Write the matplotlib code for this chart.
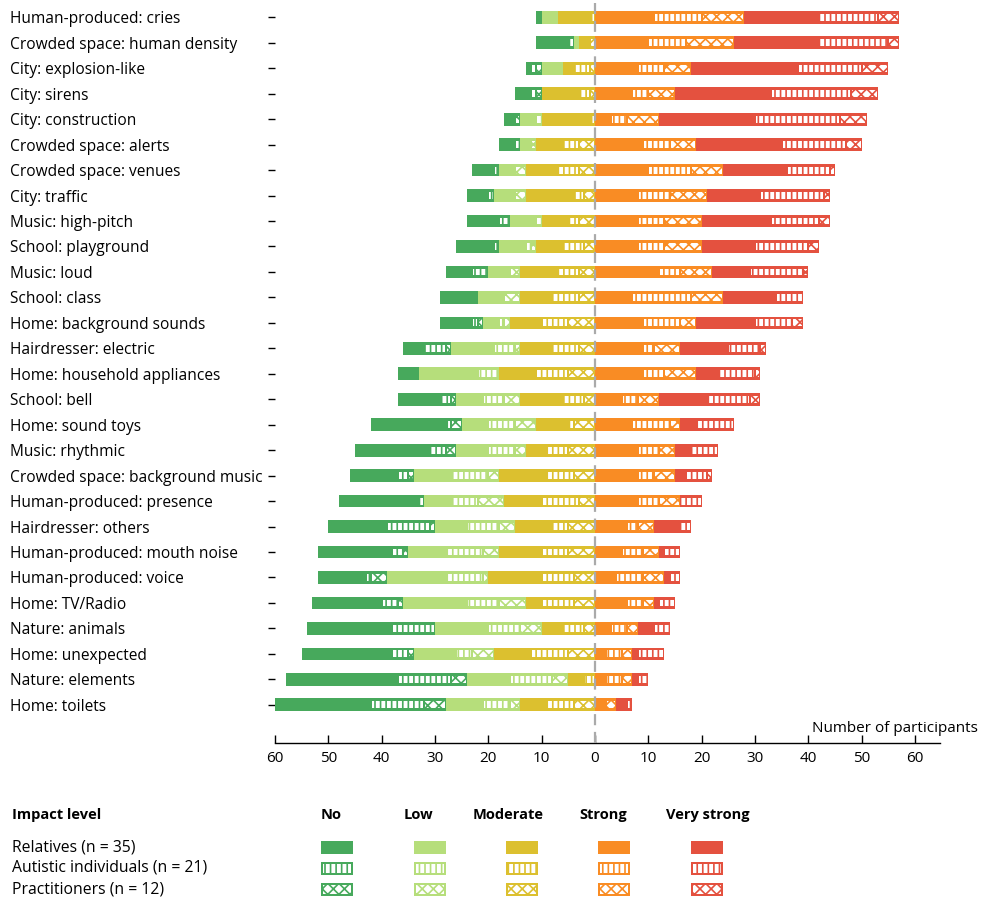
import numpy as np
import matplotlib
matplotlib.use("Agg")
import matplotlib.pyplot as plt
from matplotlib.patches import Rectangle

plt.rcParams['font.family'] = ['Open Sans', 'DejaVu Sans']
plt.rcParams['hatch.linewidth'] = 1.2

categories = [
    "Human-produced: cries", "Crowded space: human density", "City: explosion-like",
    "City: sirens", "City: construction", "Crowded space: alerts", "Crowded space: venues",
    "City: traffic", "Music: high-pitch", "School: playground", "Music: loud",
    "School: class", "Home: background sounds", "Hairdresser: electric",
    "Home: household appliances", "School: bell", "Home: sound toys", "Music: rhythmic",
    "Crowded space: background music", "Human-produced: presence", "Hairdresser: others",
    "Human-produced: mouth noise", "Human-produced: voice", "Home: TV/Radio",
    "Nature: animals", "Home: unexpected", "Nature: elements", "Home: toilets",
]

# Impact level "No"
no_rel = [1, 6, 1, 3, 2, 3, 4, 4, 6, 7, 5, 7, 6, 4, 4, 8, 14, 14, 9, 15, 11, 14, 9, 13, 16, 17, 21, 18]
no_aut = [0, 1, 1, 1, 0, 1, 1, 1, 2, 1, 3, 0, 1, 4, 0, 2, 1, 3, 2, 1, 8, 2, 1, 3, 8, 3, 10, 10]
no_pra = [0, 0, 1, 1, 1, 0, 0, 0, 0, 0, 0, 0, 1, 1, 0, 1, 2, 2, 1, 0, 1, 1, 3, 1, 0, 1, 3, 4]
# Impact level "Low"
low_rel = [3, 1, 4, 0, 3, 2, 3, 4, 5, 5, 4, 5, 3, 8, 11, 5, 5, 6, 7, 5, 6, 7, 11, 12, 10, 8, 8, 7]
low_aut = [0, 0, 0, 0, 1, 0, 0, 0, 1, 1, 0, 0, 1, 4, 4, 4, 5, 5, 7, 5, 6, 7, 7, 6, 6, 3, 8, 5]
low_pra = [0, 0, 0, 0, 0, 1, 2, 2, 0, 1, 2, 3, 1, 1, 0, 3, 4, 2, 2, 5, 3, 3, 1, 5, 4, 4, 3, 2]
# Impact level "Moderate"
mod_rel = [6, 2, 2, 7, 9, 5, 6, 9, 5, 5, 7, 6, 6, 6, 7, 8, 6, 4, 9, 7, 7, 8, 10, 3, 4, 7, 3, 5]
mod_aut = [1, 0, 3, 2, 1, 3, 4, 2, 2, 4, 4, 5, 5, 5, 6, 4, 1, 4, 5, 7, 3, 5, 6, 6, 4, 7, 2, 5]
mod_pra = [0, 1, 1, 1, 0, 3, 3, 2, 3, 2, 3, 3, 5, 3, 5, 2, 4, 5, 4, 3, 5, 5, 4, 4, 2, 5, 0, 4]
# Impact level "Strong"
str_rel = [11, 10, 8, 7, 3, 9, 10, 8, 8, 8, 12, 7, 9, 9, 9, 5, 7, 8, 8, 8, 6, 5, 4, 6, 3, 2, 2, 2]
str_aut = [9, 7, 5, 3, 3, 5, 8, 6, 5, 5, 4, 11, 7, 2, 4, 3, 7, 4, 3, 4, 2, 4, 5, 3, 3, 3, 3, 0]
str_pra = [8, 9, 5, 5, 6, 5, 6, 7, 7, 7, 6, 6, 3, 5, 6, 4, 2, 3, 4, 4, 3, 3, 4, 2, 2, 2, 2, 2]
# Impact level "Very strong"
vs_rel = [14, 16, 20, 18, 18, 16, 12, 10, 13, 10, 7, 10, 11, 9, 4, 9, 3, 3, 2, 0, 5, 1, 1, 1, 3, 1, 1, 2]
vs_aut = [11, 13, 12, 15, 16, 12, 8, 12, 9, 10, 10, 5, 7, 6, 7, 8, 7, 5, 4, 4, 2, 3, 2, 3, 3, 5, 2, 1]
vs_pra = [4, 2, 5, 5, 5, 3, 1, 1, 2, 2, 1, 0, 2, 1, 1, 2, 0, 0, 1, 0, 0, 0, 0, 0, 0, 0, 0, 0]

level_names = ["No", "Low", "Moderate", "Strong", "Very strong"]
group_names = ["Relatives (n = 35)", "Autistic individuals (n = 21)", "Practitioners (n = 12)"]
level_colors = ["#47A95C", "#B6DE7B", "#DCC02F", "#F98C24", "#E4513F"]
tick_values = [-60, -50, -40, -30, -20, -10, 0, 10, 20, 30, 40, 50, 60]

levels = [
    (no_rel, no_aut, no_pra),
    (low_rel, low_aut, low_pra),
    (mod_rel, mod_aut, mod_pra),
    (str_rel, str_aut, str_pra),
    (vs_rel, vs_aut, vs_pra),
]
hatches = [None, "|||", "xxx"]

W, H = 982, 898
fig = plt.figure(figsize=(W / 100, H / 100), dpi=100)
ax = fig.add_axes([275 / W, 1 - 743 / H, 665 / W, (743 - 4.6) / H])

y = np.arange(len(categories))
bar_h = 0.5
inner_h = 0.27

neg = np.array(no_rel) + np.array(no_aut) + np.array(no_pra) \
    + np.array(low_rel) + np.array(low_aut) + np.array(low_pra) \
    + np.array(mod_rel) + np.array(mod_aut) + np.array(mod_pra)
left = -neg.astype(float)

for li, grp in enumerate(levels):
    col = level_colors[li]
    for gi, vals in enumerate(grp):
        v = np.array(vals, dtype=float)
        ax.barh(y, v, left=left, height=bar_h, color=col, edgecolor="none", zorder=2)
        if gi > 0:
            for yi, (l, w) in enumerate(zip(left, v)):
                if w <= 0:
                    continue
                inset = 0.2 if w >= 1 else 0.05
                ax.barh(yi, w - 2 * inset, left=l + inset, height=inner_h,
                        facecolor="white", edgecolor=col, linewidth=0,
                        hatch=hatches[gi], zorder=3)
        left = left + v

ax.axvline(0, ymin=0, ymax=1.006, color="#AAAAAA", linestyle=(0, (5, 3)),
           linewidth=1.6, zorder=4, clip_on=False)

ax.set_xlim(-60, 64.7)
ax.set_ylim(27 + 1.5, -0.5)

ax.set_xticks(tick_values)
ax.set_xticklabels([str(abs(t)) for t in tick_values], fontsize=11)
ax.tick_params(axis="x", direction="in", length=6, width=1, pad=6)

ax.set_yticks(y)
ax.set_yticklabels(categories, fontsize=11.2, ha="left")
ax.tick_params(axis="y", direction="out", length=5, width=1,
               pad=(275 - 5 - 12) * 72 / 100)

for s in ["top", "right", "left"]:
    ax.spines[s].set_visible(False)
ax.spines["bottom"].set_linewidth(1)

fig.text(978 / W, 1 - 728 / H, "Number of participants", ha="right", va="center", fontsize=11)

# Legend
def fy(py):
    return 1 - py / H

fig.text(12 / W, fy(815), "Impact level", ha="left", va="center", fontsize=10.5, fontweight="bold")
header_x = [331, 418, 508, 603, 708]
swatch_x = [337, 430, 522, 614, 707]
row_y = [847, 868, 889]
for name, hx in zip(level_names, header_x):
    fig.text(hx / W, fy(815), name, ha="center", va="center", fontsize=10.5, fontweight="bold")
for gi, (gname, ry) in enumerate(zip(group_names, row_y)):
    fig.text(12 / W, fy(ry), gname, ha="left", va="center", fontsize=11.3)
    for li, sx in enumerate(swatch_x):
        col = level_colors[li]
        sw, sh = 32, 13
        x0 = (sx - sw / 2) / W
        y0 = fy(ry + sh / 2)
        fig.patches.append(Rectangle((x0, y0), sw / W, sh / H, transform=fig.transFigure,
                                     facecolor=col, edgecolor="none"))
        if gi > 0:
            fig.patches.append(Rectangle(((sx - sw / 2 + 2) / W, fy(ry + sh / 2 - 2)),
                                         (sw - 4) / W, (sh - 4) / H, transform=fig.transFigure,
                                         facecolor="white", edgecolor=col, linewidth=0,
                                         hatch=hatches[gi]))

fig.savefig("out.png", dpi=100)
